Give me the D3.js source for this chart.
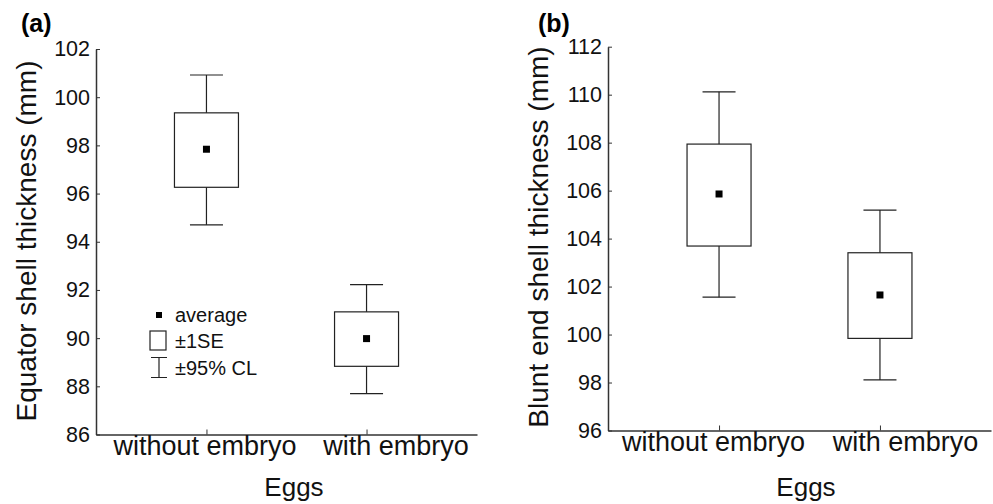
<!DOCTYPE html>
<html>
<head>
<meta charset="utf-8">
<script src="https://cdn.jsdelivr.net/npm/d3@7"></script>
<style>
  body { margin: 0; background: #fff; }
  svg { display: block; font-family: "Liberation Sans", Arial, sans-serif; }
  .axis path, .axis line { stroke: #333; }
  .axis text { fill: #111; }
</style>
</head>
<body>
<div id="chart"></div>
<script>
const categories = ["without embryo", "with embryo"];

// (a) equator shell thickness
const equatorMean = [97.84, 89.98];
const equatorSeLow = [96.26, 88.83];
const equatorSeHigh = [99.35, 91.09];
const equatorClLow = [94.70, 87.70];
const equatorClHigh = [100.92, 92.22];
const equatorTicks = [86, 88, 90, 92, 94, 96, 98, 100, 102];

// (b) blunt end shell thickness
const bluntMean = [105.86, 101.65];
const bluntSeLow = [103.69, 99.84];
const bluntSeHigh = [107.94, 103.41];
const bluntClLow = [101.56, 98.11];
const bluntClHigh = [110.12, 105.19];
const bluntTicks = [96, 98, 100, 102, 104, 106, 108, 110, 112];

const width = 993, height = 504;

const svg = d3.select("#chart").append("svg")
  .attr("width", width)
  .attr("height", height)
  .attr("viewBox", `0 0 ${width} ${height}`);

function panel(opts) {
  const xScale = d3.scalePoint()
    .domain(categories)
    .range([opts.x0, opts.x1])
    .padding(0.69);
  const yScale = d3.scaleLinear()
    .domain(d3.extent(opts.ticks))
    .range([opts.y0, opts.y1]);

  const g = svg.append("g");

  //
  // Axes
  //
  g.append("g")
    .attr("class", "axis")
    .attr("transform", `translate(${opts.x0},0)`)
    .call(d3.axisLeft(yScale).tickValues(opts.ticks).tickSizeInner(-4).tickSizeOuter(0).tickPadding(6))
    .call(a => a.selectAll("text").style("font-size", "21.5px"))
    .call(a => a.select(".domain").attr("stroke-width", 1.5));

  g.append("g")
    .attr("class", "axis")
    .attr("transform", `translate(0,${opts.y0})`)
    .call(d3.axisBottom(xScale).tickSizeInner(-5).tickSizeOuter(0).tickPadding(1))
    .call(a => a.selectAll("text").style("font-size", "27px")
      .attr("dx", (d, i) => opts.labelShift[i]))
    .call(a => a.select(".domain").attr("stroke-width", 1.5));

  //
  // Boxes
  //
  const boxW = 64, capW = 33, dot = 7;
  const groups = g.selectAll(".box").data(categories).enter().append("g")
    .attr("class", "box");

  groups.append("line")
    .attr("x1", d => xScale(d)).attr("x2", d => xScale(d))
    .attr("y1", (d, i) => yScale(opts.clHigh[i]))
    .attr("y2", (d, i) => yScale(opts.clLow[i]))
    .attr("stroke", "#222").attr("stroke-width", 1.2);
  groups.selectAll(".cap")
    .data((d, i) => [opts.clLow[i], opts.clHigh[i]].map(v => ({c: d, v})))
    .enter().append("line")
    .attr("class", "cap")
    .attr("x1", d => xScale(d.c) - capW / 2).attr("x2", d => xScale(d.c) + capW / 2)
    .attr("y1", d => yScale(d.v)).attr("y2", d => yScale(d.v))
    .attr("stroke", "#222").attr("stroke-width", 1.2);
  groups.append("rect")
    .attr("x", d => xScale(d) - boxW / 2)
    .attr("width", boxW)
    .attr("y", (d, i) => yScale(opts.seHigh[i]))
    .attr("height", (d, i) => yScale(opts.seLow[i]) - yScale(opts.seHigh[i]))
    .attr("fill", "#fff").attr("stroke", "#222").attr("stroke-width", 1.2);
  groups.append("rect")
    .attr("x", d => xScale(d) - dot / 2)
    .attr("y", (d, i) => yScale(opts.mean[i]) - dot / 2)
    .attr("width", dot).attr("height", dot)
    .attr("fill", "#000");

  //
  // Labels
  //
  g.append("text")
    .attr("transform", `translate(${opts.ylabX},${opts.ylabY}) rotate(-90)`)
    .attr("text-anchor", "middle")
    .style("font-size", "28px").attr("fill", "#111")
    .text(opts.ylabel);
  g.append("text")
    .attr("x", opts.xlabX).attr("y", opts.xlabY)
    .attr("text-anchor", "middle")
    .style("font-size", "26px").attr("fill", "#111")
    .text("Eggs");
  g.append("text")
    .attr("x", opts.tagX).attr("y", opts.tagY)
    .style("font-size", "25px").style("font-weight", "bold")
    .text(opts.tag);
}

panel({
  x0: 96, x1: 477, y0: 434.5, y1: 49,
  ticks: equatorTicks, mean: equatorMean,
  seLow: equatorSeLow, seHigh: equatorSeHigh,
  clLow: equatorClLow, clHigh: equatorClHigh,
  labelShift: [-2, 29],
  ylabel: "Equator shell thickness (mm)", ylabX: 36, ylabY: 241,
  xlabX: 294, xlabY: 496, tag: "(a)", tagX: 21, tagY: 32
});

panel({
  x0: 608, x1: 991, y0: 430.5, y1: 46.7,
  ticks: bluntTicks, mean: bluntMean,
  seLow: bluntSeLow, seHigh: bluntSeHigh,
  clLow: bluntClLow, clHigh: bluntClHigh,
  labelShift: [-6, 25],
  ylabel: "Blunt end shell thickness (mm)", ylabX: 548, ylabY: 237,
  xlabX: 806, xlabY: 496, tag: "(b)", tagX: 538, tagY: 32
});

//
// Legend (panel a)
//
const legend = svg.append("g");
legend.append("rect")
  .attr("x", 156).attr("y", 312).attr("width", 6).attr("height", 6).attr("fill", "#000");
legend.append("rect")
  .attr("x", 150).attr("y", 331).attr("width", 16).attr("height", 19)
  .attr("fill", "#fff").attr("stroke", "#222").attr("stroke-width", 1.2);
legend.append("path")
  .attr("d", "M151,357.5H167M159,357.5V377.5M151,377.5H167")
  .attr("fill", "none").attr("stroke", "#222").attr("stroke-width", 1.2);
const legendItems = ["average", "\u00b11SE", "\u00b195% CL"];
const legendY = [322, 348, 375];
legend.selectAll("text").data(legendItems).enter().append("text")
  .attr("x", 175)
  .attr("y", (d, i) => legendY[i])
  .style("font-size", "20px").attr("fill", "#111")
  .text(d => d);
</script>
</body>
</html>
